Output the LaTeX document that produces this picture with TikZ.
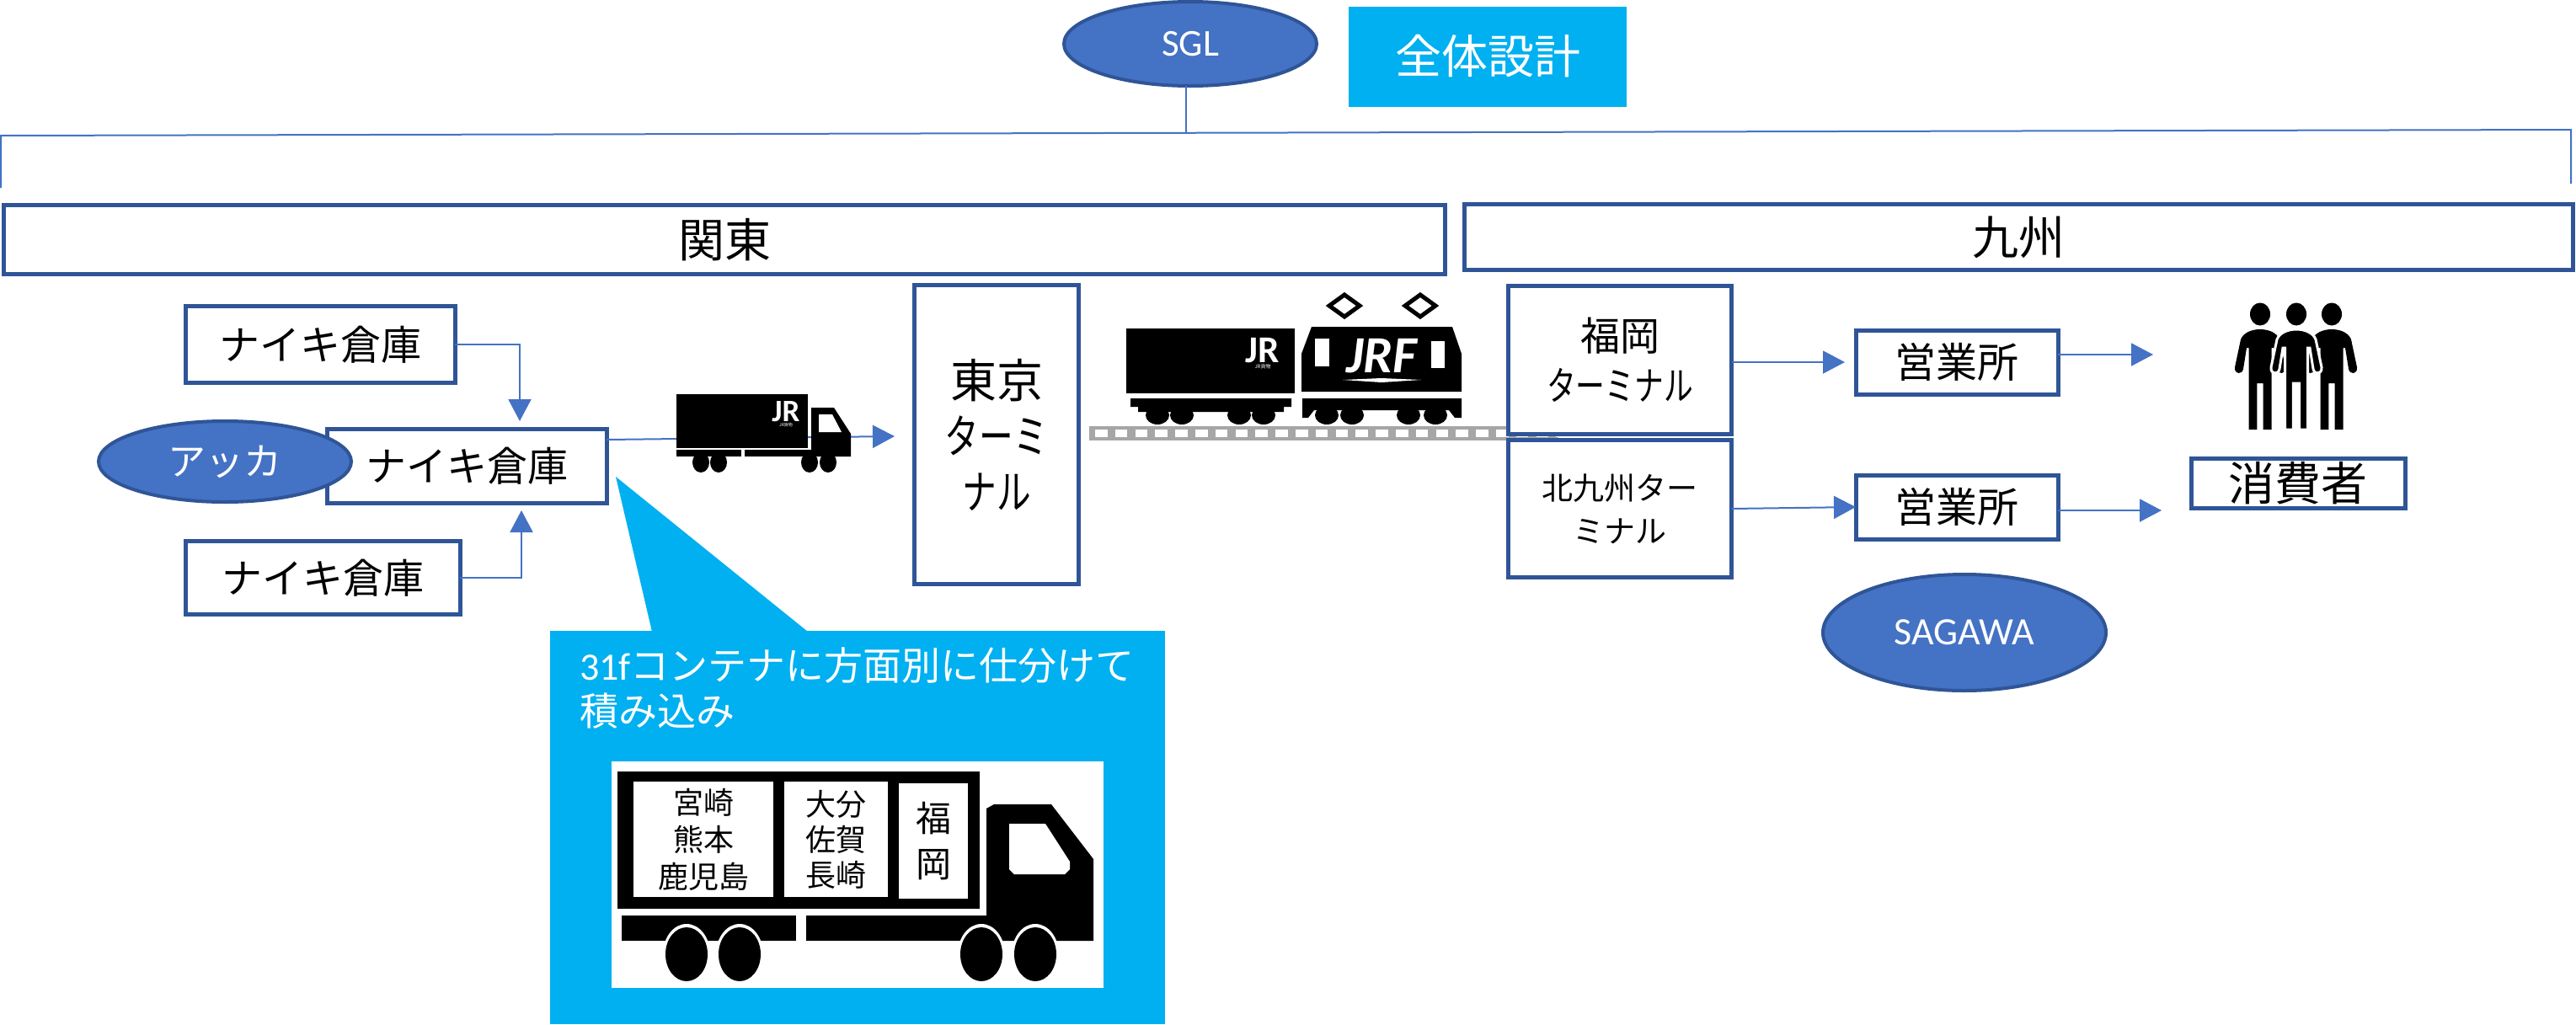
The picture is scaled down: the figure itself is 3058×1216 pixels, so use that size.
\documentclass[tikz,border=0pt]{standalone}
\usepackage{fontspec}
\setmainfont{Noto Sans CJK JP}
\newfontfamily\latinfont{Carlito}
\newfontfamily\narrowkana[FakeStretch=0.74]{Noto Sans CJK JP}
\usetikzlibrary{arrows.meta, shapes.geometric}
\definecolor{boxblue}{HTML}{2F5597}
\definecolor{lineblue}{HTML}{4472C4}
\definecolor{skyblue}{HTML}{00B0F0}
\newcommand{\pxfont}[1]{\fontsize{#1}{#1}\selectfont}
\newcommand{\personbody}{(-13.5,137) -- (-13.5,40) -- (-16,40) -- (-20,65) .. controls (-21,72) and (-31,72) .. (-30,63)
    -- (-23,30) .. controls (-20,22) and (-10,18) .. (0,18) .. controls (10,18) and (20,22) .. (23,30)
    -- (30,63) .. controls (31,72) and (21,72) .. (20,65) -- (16,40) -- (13.5,40) -- (13.5,137)
    -- (3.7,137) -- (3.7,82) -- (-3.7,82) -- (-3.7,137) -- cycle}

\begin{document}
\begin{tikzpicture}[
    x=1pt, y=-1pt,
    box/.style={draw=boxblue, line width=5pt, fill=white, inner sep=0pt, outer sep=0pt, align=center},
    oval/.style={ellipse, draw=boxblue, line width=4pt, fill=lineblue, text=white, inner sep=0pt, outer sep=0pt},
    link/.style={draw=lineblue, line width=2pt},
    arrow/.style={link, -{Triangle[length=26pt,width=27pt]}},
    wheel/.style={fill=black},
    halo/.style={fill=white},
    person/.pic={
        \fill[black] (0,0) ellipse [x radius=12, y radius=13.5];
        \fill[black] \personbody;
    },
    frontperson/.pic={
        \fill[black] (0,0) ellipse [x radius=12, y radius=13.5];
        \path[fill=black, draw=white, line width=3pt] \personbody;
    }
]
    \useasboundingbox (0,0) rectangle (3058,1216);

    % --- Top Bar ---
    \node[oval, minimum width=300pt, minimum height=100pt, font=\latinfont\pxfont{45}] (sgl) at (1413,52) {SGL};
    \node[fill=skyblue, text=white, minimum width=330pt, minimum height=119pt, inner sep=0pt, font=\pxfont{55}] (design) at (1766,67) {全体設計};

    \coordinate (barleft) at (1,161);
    \coordinate (barright) at (3052,154);
    \coordinate (barmid) at (1408,157);
    \draw[link] (1,223) -- (barleft) -- (barright) -- (3052,218);
    \draw[link] (sgl.south -| barmid) -- (barmid);

    \node[box, minimum width=1711pt, minimum height=82pt, font=\pxfont{55}] (kanto) at (860,284.5) {関東};
    \node[box, minimum width=1316pt, minimum height=78pt, font=\pxfont{55}] (kyushu) at (2396,281.5) {九州};

    % --- Rail Track and Freight Train ---
    \fill[black!35] (1293,506) rectangle (1850,523);
    \foreach \i in {0,...,23}
        \fill[white] (1300+\i*23.8,510) rectangle ++(14.5,9);

    \fill[black] (1337,390) rectangle (1537,467);
    \node[text=white, font=\latinfont\bfseries\pxfont{45}, inner sep=0pt] (jrbox) at (1499,416) {JR};
    \node[text=white, font=\pxfont{6}, inner sep=0pt] (jrboxsub) at (1499,435) {JR貨物};
    \fill[black] (1342,473) -- (1533,473) -- (1533,483) -- (1524,483) -- (1524,489) -- (1351,489) -- (1351,483) -- (1342,483) -- cycle;
    \foreach \x in {1374,1403,1471,1500}
        \fill[wheel] (\x,493) ellipse [x radius=14, y radius=11];

    \fill[black] (1557,388) -- (1724,388) -- (1735,420) -- (1735,465) -- (1545,465) -- (1545,420) -- cycle;
    \fill[white] (1561,402) rectangle (1578,435);
    \fill[white] (1699,405) rectangle (1715,437);
    \node[text=white, font=\latinfont\bfseries\itshape\pxfont{62}, inner sep=0pt] (jrf) at (1640,423) {JRF};
    \fill[white] (1594,451) -- (1640,449) -- (1687,451) -- (1640,454) -- cycle;
    \fill[black] (1546,473) -- (1735,473) -- (1735,496) -- (1727,496) -- (1720,487) -- (1560,487) -- (1553,496) -- (1546,496) -- cycle;
    \foreach \x in {1575,1605,1672,1704}
        \fill[wheel] (\x,493) ellipse [x radius=14, y radius=11];
    \foreach \x in {1596,1686}
        \draw[black, line width=5pt] (\x-18,363) -- (\x,350) -- (\x+18,363) -- (\x,376) -- cycle;

    % --- Kanto Warehouses ---
    \node[box, minimum width=320pt, minimum height=91pt, font=\pxfont{48}] (whtop) at (380,409) {ナイキ倉庫};
    \node[box, minimum width=332pt, minimum height=88pt, font=\pxfont{48}] (whmain) at (554,553) {ナイキ倉庫};
    \node[box, minimum width=326pt, minimum height=87pt, font=\pxfont{48}] (whbottom) at (383,686) {ナイキ倉庫};
    \node[oval, minimum width=300pt, minimum height=96pt, font=\pxfont{45}] (akka) at (267,548) {アッカ};

    \coordinate (mainin1) at (617,500);
    \coordinate (mainin2) at (619,606);
    \draw[arrow] (whtop.east) -| (mainin1);
    \draw[arrow] (whbottom.east) -| (mainin2);

    % --- Terminals ---
    \node[box, minimum width=195pt, minimum height=355pt, font=\pxfont{55}] (tokyo) at (1183,516) {東京\\[11pt]{\narrowkana ターミ}\\[11pt]{\narrowkana ナル}};
    \node[box, minimum width=265pt, minimum height=176pt, font=\pxfont{47}] (fukuoka) at (1923,427) {福岡\\[12pt]{\narrowkana ターミナル}};
    \node[box, minimum width=265pt, minimum height=163pt, font=\pxfont{37}] (kita) at (1923,604) {北九州ター\\[14pt]ミナル};

    % --- Truck to Tokyo ---
    \coordinate (tokyoin) at (1062,518);
    \draw[arrow] ([yshift=31pt]whmain.east) -- (tokyoin);
    \fill[black] (803,468) rectangle (959,532);
    \fill[black] (803,534) rectangle (880,542);
    \fill[black] (884,534) rectangle (1010,542);
    \fill[black] (963,484) -- (990,484) -- (1010,515) -- (1010,542) -- (963,542) -- cycle;
    \fill[white] (972,492) -- (988,492) -- (999,513) -- (972,513) -- cycle;
    \foreach \x in {832,853,961,983}
        \fill[wheel] (\x,549) ellipse [x radius=10, y radius=12];
    \node[text=white, font=\latinfont\bfseries\pxfont{37}, inner sep=0pt] (jrtruck) at (933,489) {JR};
    \node[text=white, font=\pxfont{5}, inner sep=0pt] (jrtrucksub) at (933,505) {JR貨物};

    % --- Kyushu Side ---
    \node[box, minimum width=240pt, minimum height=76pt, font=\pxfont{49}] (office1) at (2323,430) {営業所};
    \node[box, minimum width=240pt, minimum height=76pt, font=\pxfont{49}] (office2) at (2323,602) {営業所};
    \node[box, minimum width=254pt, minimum height=59pt, font=\pxfont{55}] (consumer) at (2728,574) {消費者};
    \node[oval, minimum width=336pt, minimum height=138pt, font=\latinfont\pxfont{46}] (sagawa) at (2332,751) {SAGAWA};

    \coordinate (people1) at (2556,421);
    \coordinate (people2) at (2566,606);
    \draw[arrow, shorten >=13pt] (fukuoka.east |- office1.west) -- (office1.west);
    \draw[arrow] (kita.east) -- (office2.west);
    \draw[arrow] (office1.east |- people1) -- (people1);
    \draw[arrow] (office2.east |- people2) -- (people2);

    \pic at (2683,373) {person};
    \pic at (2768,373) {person};
    \pic at (2726,373) {frontperson};

    % --- Callout ---
    \fill[skyblue] (731,566) -- (774,750) -- (959,750) -- cycle;
    \node[fill=skyblue, minimum width=730pt, minimum height=467pt, inner sep=0pt] (note) at (1018,982.5) {};
    \node[text=white, anchor=west, inner sep=0pt, font=\pxfont{46}] (notetext1) at (688,790) {{\latinfont 31f}コンテナに方面別に仕分けて};
    \node[text=white, anchor=west, inner sep=0pt, font=\pxfont{46}] (notetext2) at (688,844) {積み込み};

    % --- Container Truck ---
    \fill[white] (726,904) rectangle (1310,1173);
    \fill[black] (733,916) rectangle (1163,1079);
    \fill[black] (738,1087) rectangle (945,1117);
    \fill[black] (957,1087) rectangle (1173,1117);
    \fill[black] (1171,1117) -- (1171,960) -- (1180,955) -- (1248,955) -- (1298,1020) -- (1298,1117) -- cycle;
    \fill[white] (1198,978) -- (1241,978) -- (1270,1023) -- (1270,1032) -- (1264,1038) -- (1204,1038) -- (1198,1032) -- cycle;
    \foreach \x in {815,878,1165,1229} {
        \fill[halo] (\x,1133) ellipse [x radius=28, y radius=36];
        \fill[wheel] (\x,1133) ellipse [x radius=25, y radius=32];
    }
    \node[fill=white, minimum width=166pt, minimum height=137pt, inner sep=0pt, font=\pxfont{36}, align=center] (load1) at (835,996.5) {宮崎\\[8pt]熊本\\[8pt]鹿児島};
    \node[fill=white, minimum width=123pt, minimum height=137pt, inner sep=0pt, font=\pxfont{36}, align=center] (load2) at (992.5,996.5) {大分\\[6pt]佐賀\\[6pt]長崎};
    \node[fill=white, minimum width=82pt, minimum height=137pt, inner sep=0pt, font=\pxfont{42}, align=center] (load3) at (1108,998.5) {福\\[12pt]岡};

\end{tikzpicture}
\end{document}
